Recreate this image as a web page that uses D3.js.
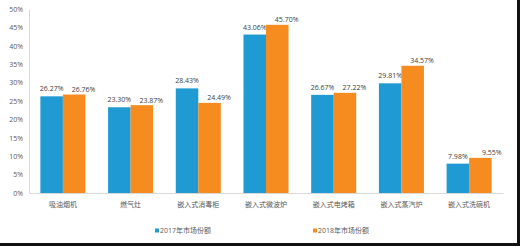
<!DOCTYPE html>
<html><head><meta charset="utf-8">
<script src="https://cdn.jsdelivr.net/npm/d3@7"></script>
<style>body{margin:0;background:#fff}svg{display:block}</style>
</head><body>
<svg id="c" width="520" height="246"></svg>
<script>
const categories = ["吸油烟机","燃气灶","嵌入式消毒柜","嵌入式微波炉","嵌入式电烤箱","嵌入式蒸汽炉","嵌入式洗碗机"];
const series2017 = [26.27,23.30,28.43,43.06,26.67,29.81,7.98];
const series2018 = [26.76,23.87,24.49,45.70,27.22,34.57,9.55];
const seriesNames = ["2017年市场份额","2018年市场份额"];
const yTicks = [0,5,10,15,20,25,30,35,40,45,50];
const colors = ["#1f9ad3","#f68b1f"];

const svg = d3.select("#c");
const m = {l:29, r:503, t:9, b:193};
const x = d3.scaleBand().domain(categories).range([m.l, m.r]).paddingInner(0.335).paddingOuter(0.168);
const xs = d3.scaleBand().domain([0,1]).range([0, x.bandwidth()]);
const y = d3.scaleLinear().domain([0,50]).range([m.b, m.t]);
const font = "'Open Sans','Noto Sans CJK SC',sans-serif";

// y axis
const ya = svg.append("g").attr("transform",`translate(${m.l},0)`)
  .call(d3.axisLeft(y).tickValues(yTicks).tickFormat(d=>d+"%").tickSize(0).tickPadding(6));
ya.select(".domain").attr("stroke","#d9d9d9");
ya.selectAll("text").attr("font-family",font).attr("font-size",7).attr("fill","#595959");

// bars
const data = categories.map((c,i)=>({c, v:[series2017[i], series2018[i]]}));
const g = svg.append("g");
data.forEach(d=>{
  d.v.forEach((v,j)=>{
    g.append("rect").attr("x", x(d.c)+xs(j)).attr("y", y(v))
      .attr("width", xs.bandwidth()).attr("height", y(0)-y(v)).attr("fill", colors[j]);
    const t = g.append("text").attr("font-family",font).attr("font-size",7).attr("fill","#404040")
      .text(v.toFixed(2)+"%");
    if(j===0){
      t.attr("x", x(d.c)+xs(j)+xs.bandwidth()/2).attr("y", y(v)-5).attr("text-anchor","middle");
    } else {
      t.attr("x", x(d.c)+xs(j)+xs.bandwidth()+10).attr("y", y(v)-2.5).attr("text-anchor","end");
    }
  });
});

// x axis
const xa = svg.append("g").attr("transform",`translate(0,${m.b})`)
  .call(d3.axisBottom(x).tickSize(0).tickPadding(9).tickSizeOuter(0));
xa.select(".domain").attr("stroke","#d9d9d9");
xa.selectAll("text").attr("font-family",font).attr("font-size",7).attr("fill","#595959");

// legend
const lx = [155, 313];
seriesNames.forEach((n,j)=>{
  svg.append("rect").attr("x",lx[j]).attr("y",228.5).attr("width",4).attr("height",4).attr("fill",colors[j]);
  svg.append("text").attr("x",lx[j]+5).attr("y",233).attr("font-family",font).attr("font-size",7)
    .attr("fill","#595959").text(n);
});

// frame edges
svg.append("rect").attr("x",517).attr("y",0).attr("width",3).attr("height",246).attr("fill","#111");
svg.append("rect").attr("x",0).attr("y",243).attr("width",520).attr("height",3).attr("fill","#111");
</script>
</body></html>
